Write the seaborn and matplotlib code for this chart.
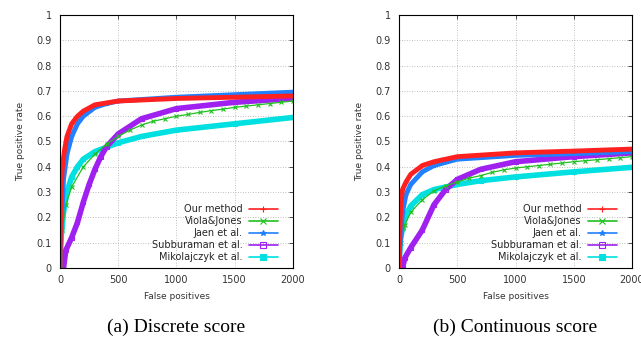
import numpy as np
import pandas as pd
import matplotlib
matplotlib.use("Agg")
import matplotlib.pyplot as plt
import seaborn as sns

sns.set_theme(style="white")
plt.rcParams['font.family'] = ['DejaVu Sans']

methods = ["Our method", "Viola&Jones", "Jaen et al.", "Subburaman et al.", "Mikolajczyk et al."]
colors = ["#ff2020", "#20c020", "#2080ff", "#a020f0", "#00e0e0"]
markers = ["+", "x", "*", "s", "s"]

# (a) discrete score
disc_our_x = [0, 5, 10, 20, 40, 60, 100, 150, 200, 300, 500, 1000, 1500, 2000]
disc_our_y = [0, 0.2, 0.3, 0.4, 0.47, 0.52, 0.57, 0.6, 0.62, 0.645, 0.66, 0.67, 0.675, 0.68]
disc_vj_x = [0, 20, 50, 100, 200, 300, 400, 500, 600, 700, 800, 900, 1000, 1100, 1200, 1300, 1400, 1500, 1600, 1700, 1800, 1900, 2000]
disc_vj_y = [0, 0.15, 0.25, 0.32, 0.4, 0.45, 0.49, 0.52, 0.545, 0.565, 0.58, 0.59, 0.6, 0.607, 0.615, 0.622, 0.628, 0.635, 0.64, 0.645, 0.65, 0.655, 0.66]
disc_jaen_x = [0, 10, 30, 60, 100, 150, 200, 300, 400, 500, 1000, 1500, 2000]
disc_jaen_y = [0, 0.15, 0.35, 0.45, 0.52, 0.57, 0.6, 0.635, 0.65, 0.66, 0.675, 0.685, 0.695]
disc_sub_x = [0, 30, 50, 100, 150, 200, 250, 300, 350, 400, 500, 700, 1000, 1500, 2000]
disc_sub_y = [0, 0, 0.07, 0.12, 0.18, 0.26, 0.33, 0.39, 0.44, 0.48, 0.53, 0.59, 0.63, 0.655, 0.67]
disc_mik_x = [0, 10, 30, 60, 100, 150, 200, 300, 500, 700, 1000, 1500, 2000]
disc_mik_y = [0, 0.12, 0.22, 0.3, 0.36, 0.4, 0.43, 0.46, 0.495, 0.52, 0.545, 0.57, 0.595]

# (b) continuous score
cont_our_x = [0, 5, 15, 30, 60, 100, 200, 300, 500, 1000, 1500, 2000]
cont_our_y = [0, 0.12, 0.25, 0.31, 0.34, 0.37, 0.405, 0.42, 0.44, 0.455, 0.462, 0.47]
cont_vj_x = [0, 20, 50, 100, 200, 300, 400, 500, 600, 700, 800, 900, 1000, 1100, 1200, 1300, 1400, 1500, 1600, 1700, 1800, 1900, 2000]
cont_vj_y = [0, 0.1, 0.17, 0.22, 0.27, 0.305, 0.325, 0.34, 0.355, 0.365, 0.378, 0.388, 0.395, 0.4, 0.405, 0.41, 0.415, 0.42, 0.424, 0.428, 0.432, 0.436, 0.44]
cont_jaen_x = [0, 10, 30, 60, 100, 200, 300, 500, 1000, 1500, 2000]
cont_jaen_y = [0, 0.1, 0.22, 0.29, 0.33, 0.38, 0.405, 0.43, 0.445, 0.452, 0.46]
cont_sub_x = [0, 30, 50, 100, 200, 300, 400, 500, 700, 1000, 1500, 2000]
cont_sub_y = [0, 0, 0.04, 0.08, 0.15, 0.25, 0.31, 0.35, 0.39, 0.42, 0.44, 0.455]
cont_mik_x = [0, 10, 30, 60, 100, 200, 300, 500, 700, 1000, 1500, 2000]
cont_mik_y = [0, 0.1, 0.16, 0.21, 0.245, 0.29, 0.31, 0.33, 0.345, 0.36, 0.38, 0.398]

panels = [
    ([disc_our_x, disc_vj_x, disc_jaen_x, disc_sub_x, disc_mik_x],
     [disc_our_y, disc_vj_y, disc_jaen_y, disc_sub_y, disc_mik_y], "(a) Discrete score"),
    ([cont_our_x, cont_vj_x, cont_jaen_x, cont_sub_x, cont_mik_x],
     [cont_our_y, cont_vj_y, cont_jaen_y, cont_sub_y, cont_mik_y], "(b) Continuous score"),
]

fig = plt.figure(figsize=(6.41, 3.43), dpi=100)
lefts = [0.0936, 0.6225]
widths = [0.3635, 0.3635]
lw = [3.5, 0.9, 3.5, 4.0, 4.0]
msize = [2.5, 3.5, 2.5, 2.5, 2.5]

for k, (xs, ys, cap) in enumerate(panels):
    ax = fig.add_axes([lefts[k], 0.2187, widths[k], 0.7376])
    # draw order: cyan, purple, green, blue, red on top
    for i in [4, 3, 1, 2, 0]:
        df = pd.DataFrame({"x": xs[i], "y": ys[i]})
        sns.lineplot(data=df, x="x", y="y", ax=ax, color=colors[i], linewidth=lw[i],
                     marker=markers[i], markersize=msize[i], markeredgewidth=0.8,
                     markerfacecolor="none" if i == 3 else colors[i],
                     markeredgecolor=colors[i], label=methods[i], sort=False)
    ax.set_xlim(0, 2000)
    ax.set_ylim(0, 1)
    ax.set_xticks([0, 500, 1000, 1500, 2000])
    ax.set_yticks(np.arange(0, 1.01, 0.1))
    ax.set_yticklabels(["0", "0.1", "0.2", "0.3", "0.4", "0.5", "0.6", "0.7", "0.8", "0.9", "1"])
    ax.tick_params(direction="in", length=3, width=0.6, top=True, right=True,
                   labelsize=7, colors="#333333", pad=6)
    ax.tick_params(axis="x", pad=5)
    ax.grid(True, linestyle=(0, (1, 2)), color="#aaaaaa", linewidth=0.6)
    for s in ax.spines.values():
        s.set_color("black")
        s.set_linewidth(0.8)
    ax.set_xlabel("False positives", fontsize=6.5, color="#333333", labelpad=5)
    ax.set_ylabel("True positive rate", fontsize=6.5, color="#333333", labelpad=8)
    h, l = ax.get_legend_handles_labels()
    order = [l.index(m) for m in methods]
    leg = ax.legend([h[j] for j in order], [l[j] for j in order], loc="lower right",
                    frameon=False, fontsize=7, markerfirst=False, handlelength=3.0,
                    labelspacing=0.2, borderaxespad=0.2, handletextpad=0.6,
                    bbox_to_anchor=(0.96, 0.0))
    for line in leg.get_lines():
        line.set_linewidth(1.2)
        line.set_markersize(4)
    fig.text(lefts[k] + widths[k] / 2, 0.045, cap, ha="center", va="center",
             fontsize=14, family="Liberation Serif", color="black")

fig.savefig("out.png", dpi=100)
